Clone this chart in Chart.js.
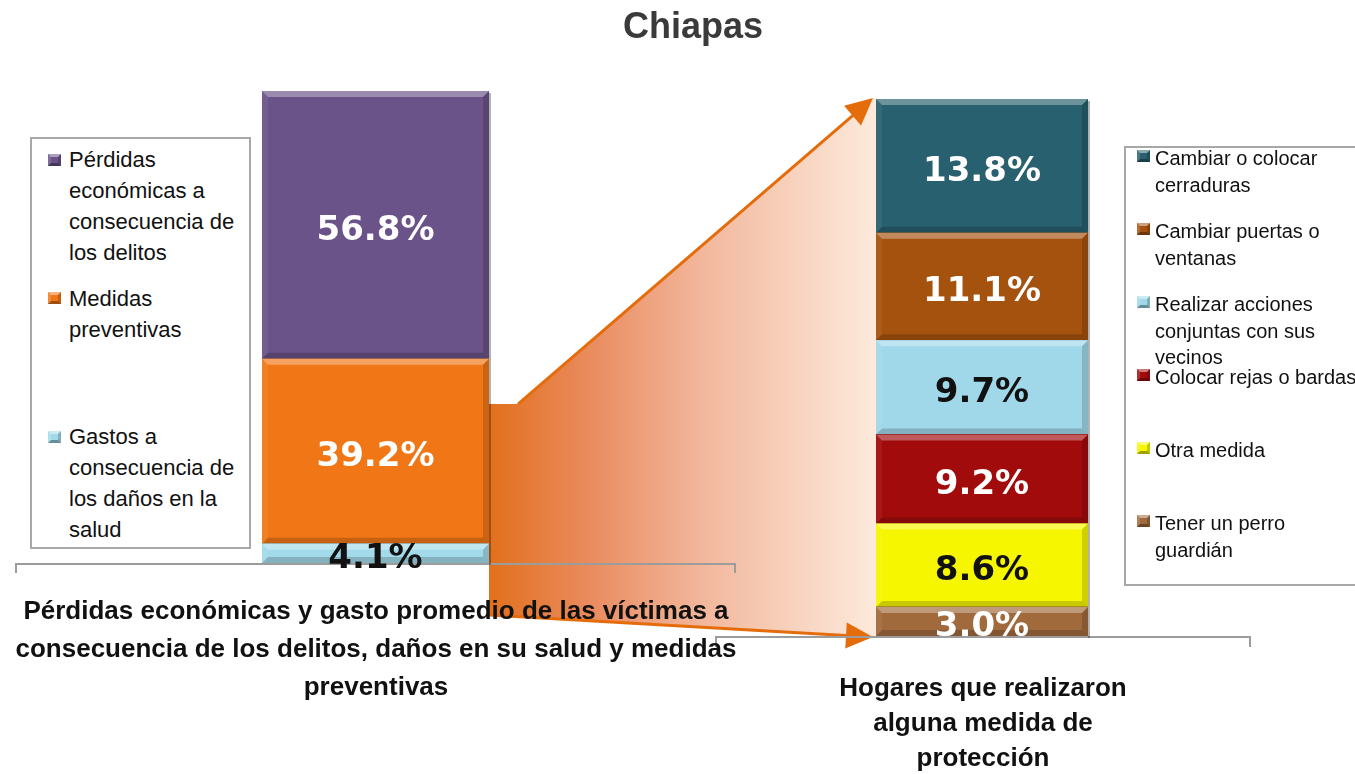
<!DOCTYPE html>
<html>
<head>
<meta charset="utf-8">
<script src="https://cdn.jsdelivr.net/npm/chart.js@4.4.1/dist/chart.umd.min.js"></script>
<style>
html,body{margin:0;padding:0;background:#fff;}
body{width:1355px;height:774px;overflow:hidden;position:relative;font-family:"Liberation Sans",Arial,sans-serif;color:#111;}
.abs{position:absolute;}
#title{left:0;top:4px;width:1386px;text-align:center;font-weight:bold;font-size:36px;line-height:44px;color:#3a3a3a;z-index:5;}
#ov{left:0;top:0;z-index:1;}
#leftCanvas{left:242px;top:71px;z-index:3;}
#rightCanvas{left:856px;top:79px;z-index:3;}
.bracket{border:2px solid #9c9c9c;border-bottom:none;box-sizing:border-box;z-index:2;}
.caption{font-weight:bold;font-size:26px;text-align:center;z-index:5;color:#111;}
.legbox{border:2px solid #a8a8a8;box-sizing:border-box;background:#fff;z-index:4;}
.legtext{z-index:5;white-space:nowrap;color:#111;}
.marker{width:13px;height:12px;box-sizing:border-box;border-style:solid;border-width:3px;z-index:5;}
</style>
</head>
<body>
<div id="title" class="abs">Chiapas</div>
<canvas id="ov" class="abs" width="1355" height="774"></canvas>
<canvas id="leftCanvas" class="abs" width="267" height="512"></canvas>
<canvas id="rightCanvas" class="abs" width="252" height="577"></canvas>
<div class="abs bracket" style="left:15px;top:563px;width:721px;height:10px;"></div>
<div class="abs bracket" style="left:715px;top:636px;width:536px;height:11px;"></div>
<div class="abs caption" style="left:0;top:591px;width:752px;line-height:38px;">Pérdidas económicas y gasto promedio de las víctimas a<br>consecuencia de los delitos, daños en su salud y medidas<br>preventivas</div>
<div class="abs caption" style="left:833px;top:670px;width:300px;line-height:35px;">Hogares que realizaron<br>alguna medida de<br>protección</div>
<div class="abs legbox" style="left:30px;top:137px;width:221px;height:412px;"></div>
<div class="abs legbox" style="left:1124px;top:146px;width:260px;height:440px;"></div>
<div id="legends"></div>
<script>
// ---------- DATA ----------
const leftCategories = [
  ['Pérdidas', 'económicas a', 'consecuencia de', 'los delitos'],
  ['Medidas', 'preventivas'],
  ['Gastos a', 'consecuencia de', 'los daños en la', 'salud']
];
const leftValues = [56.8, 39.2, 4.1];
const leftColors = ['#695388', '#F17716', '#A3DAEA'];
const leftLabelColors = ['#ffffff', '#ffffff', '#111111'];

const rightCategories = [
  ['Cambiar o colocar', 'cerraduras'],
  ['Cambiar puertas o', 'ventanas'],
  ['Realizar acciones', 'conjuntas con sus', 'vecinos'],
  ['Colocar rejas o bardas'],
  ['Otra medida'],
  ['Tener un perro', 'guardián']
];
const rightValues = [13.8, 11.1, 9.7, 9.2, 8.6, 3.0];
const rightColors = ['#28606F', '#A6520F', '#A0D8EA', '#A20B0B', '#F6F600', '#A16A3C'];
const rightLabelColors = ['#ffffff', '#ffffff', '#111111', '#ffffff', '#111111', '#ffffff'];

// ---------- helpers ----------
function shade(hex, amt) {
  const n = parseInt(hex.slice(1), 16);
  let r = (n >> 16) & 255, g = (n >> 8) & 255, b = n & 255;
  const f = c => amt >= 0 ? Math.round(c + (255 - c) * amt) : Math.round(c * (1 + amt));
  return 'rgb(' + f(r) + ',' + f(g) + ',' + f(b) + ')';
}

const bevelLabelPlugin = {
  id: 'bevelLabel',
  afterDatasetsDraw(chart) {
    const ctx = chart.ctx;
    chart.data.datasets.forEach((ds, di) => {
      const meta = chart.getDatasetMeta(di);
      meta.data.forEach((el) => {
        const l = el.x - el.width / 2, r = el.x + el.width / 2;
        const t = Math.min(el.y, el.base), bt = Math.max(el.y, el.base);
        const b = Math.min(6, (bt - t) / 2);
        ctx.save();
        ctx.fillStyle = 'rgba(255,255,255,0.32)';
        ctx.beginPath(); ctx.moveTo(l, t); ctx.lineTo(r, t); ctx.lineTo(r - b, t + b); ctx.lineTo(l + b, t + b); ctx.closePath(); ctx.fill();
        ctx.fillStyle = 'rgba(255,255,255,0.06)';
        ctx.beginPath(); ctx.moveTo(l, t); ctx.lineTo(l + b, t + b); ctx.lineTo(l + b, bt - b); ctx.lineTo(l, bt); ctx.closePath(); ctx.fill();
        ctx.fillStyle = 'rgba(0,0,0,0.16)';
        ctx.beginPath(); ctx.moveTo(r, t); ctx.lineTo(r - b, t + b); ctx.lineTo(r - b, bt - b); ctx.lineTo(r, bt); ctx.closePath(); ctx.fill();
        ctx.fillStyle = 'rgba(0,0,0,0.18)';
        ctx.beginPath(); ctx.moveTo(l, bt); ctx.lineTo(r, bt); ctx.lineTo(r - b, bt - b); ctx.lineTo(l + b, bt - b); ctx.closePath(); ctx.fill();
        ctx.fillStyle = 'rgba(0,0,0,0.3)';
        ctx.fillRect(r, t + 2, 2, bt - t);
        ctx.restore();
      });
    });
    chart.data.datasets.forEach((ds, di) => {
      const meta = chart.getDatasetMeta(di);
      meta.data.forEach((el, i) => {
        const v = ds.data[i];
        ctx.save();
        ctx.font = 'bold 34px "DejaVu Sans", Verdana, sans-serif';
        ctx.textAlign = 'center';
        ctx.textBaseline = 'middle';
        ctx.fillStyle = ds.labelColor;
        ctx.fillText(v.toFixed(1) + '%', el.x, (el.y + el.base) / 2 + 6);
        ctx.restore();
      });
    });
  }
};

function makeStackChart(canvasId, cats, vals, colors, labelColors) {
  const total = vals.reduce((a, b) => a + b, 0);
  const datasets = [];
  for (let i = vals.length - 1; i >= 0; i--) {
    datasets.push({
      label: cats[i].join(' '),
      data: [vals[i]],
      backgroundColor: colors[i],
      borderWidth: 0,
      barPercentage: 1,
      categoryPercentage: 1,
      labelColor: labelColors[i],
      srcIndex: i
    });
  }
  return new Chart(document.getElementById(canvasId), {
    type: 'bar',
    data: { labels: [''], datasets },
    options: {
      responsive: false,
      animation: false,
      layout: { padding: 20 },
      plugins: { legend: { display: false }, tooltip: { enabled: false } },
      scales: {
        x: { stacked: true, display: false },
        y: { stacked: true, display: false, min: 0, max: total }
      }
    },
    plugins: [bevelLabelPlugin]
  });
}

const leftChart = makeStackChart('leftCanvas', leftCategories, leftValues, leftColors, leftLabelColors);
const rightChart = makeStackChart('rightCanvas', rightCategories, rightValues, rightColors, rightLabelColors);

// ---------- legends (HTML, built from data) ----------
function buildLegend(cats, colors, x, y0, step, fontSize, lh, markerX, markerDy) {
  const root = document.getElementById('legends');
  cats.forEach((lines, i) => {
    const top = y0 + i * step;
    const t = document.createElement('div');
    t.className = 'abs legtext';
    t.style.left = x + 'px';
    t.style.top = top + 'px';
    t.style.fontSize = fontSize + 'px';
    t.style.lineHeight = lh + 'px';
    t.innerHTML = lines.join('<br>');
    root.appendChild(t);
    const m = document.createElement('div');
    m.className = 'abs marker';
    m.style.left = markerX + 'px';
    m.style.top = (top + (lh - 12) / 2 + markerDy) + 'px';
    m.style.background = colors[i];
    m.style.borderTopColor = shade(colors[i], 0.45);
    m.style.borderLeftColor = shade(colors[i], 0.15);
    m.style.borderRightColor = shade(colors[i], -0.2);
    m.style.borderBottomColor = shade(colors[i], -0.35);
    root.appendChild(m);
  });
}
buildLegend(leftCategories, leftColors, 69, 144, 138.5, 22, 31, 48, 0);
buildLegend(rightCategories, rightColors, 1155, 145, 73, 20, 26.5, 1137, -2);

// ---------- connector (gradient band + arrows) from chart geometry ----------
function drawConnector() {
  const ctx = document.getElementById('ov').getContext('2d');
  const lc = leftChart.canvas, rc = rightChart.canvas;
  const medIdx = leftChart.data.datasets.findIndex(d => d.srcIndex === 1);
  const el = leftChart.getDatasetMeta(medIdx).data[0];
  const L = lc.offsetLeft + el.x + el.width / 2;
  const oTop = lc.offsetTop + Math.min(el.y, el.base);
  const oBot = lc.offsetTop + Math.max(el.y, el.base);
  const lBarBottom = lc.offsetTop + leftChart.scales.y.getPixelForValue(0);
  const topL = oTop + (oBot - oTop) * 0.245;
  const botL = lBarBottom + 52;
  const R = rc.offsetLeft + rightChart.chartArea.left;
  const rTop = rc.offsetTop + rightChart.scales.y.getPixelForValue(rightChart.scales.y.max);
  const rBot = rc.offsetTop + rightChart.scales.y.getPixelForValue(0);

  const upStart = [L + 29, topL], upEnd = [R - 3, rTop - 1];
  const loStart = [L, botL], loEnd = [R - 3, rBot + 1];

  const g = ctx.createLinearGradient(L, 0, R, 0);
  g.addColorStop(0, '#E2701C');
  g.addColorStop(0.25, '#E98A5C');
  g.addColorStop(0.55, '#F2B79C');
  g.addColorStop(1, '#FDEADC');
  ctx.fillStyle = g;
  ctx.beginPath();
  ctx.moveTo(L, topL);
  ctx.lineTo(upStart[0], upStart[1]);
  ctx.lineTo(upEnd[0], upEnd[1]);
  ctx.lineTo(R + 6, rTop);
  ctx.lineTo(R + 6, rBot);
  ctx.lineTo(loEnd[0], loEnd[1]);
  ctx.lineTo(loStart[0], loStart[1]);
  ctx.closePath();
  ctx.fill();

  function arrow(s, e) {
    const dx = e[0] - s[0], dy = e[1] - s[1];
    const len = Math.hypot(dx, dy);
    const ux = dx / len, uy = dy / len, px = -uy, py = ux;
    const hl = 27, hw = 13;
    ctx.strokeStyle = '#E46C0A';
    ctx.lineWidth = 3;
    ctx.beginPath();
    ctx.moveTo(s[0], s[1]);
    ctx.lineTo(e[0] - ux * (hl - 4), e[1] - uy * (hl - 4));
    ctx.stroke();
    ctx.fillStyle = '#E46C0A';
    ctx.beginPath();
    ctx.moveTo(e[0], e[1]);
    ctx.lineTo(e[0] - ux * hl + px * hw, e[1] - uy * hl + py * hw);
    ctx.lineTo(e[0] - ux * hl - px * hw, e[1] - uy * hl - py * hw);
    ctx.closePath();
    ctx.fill();
  }
  arrow(upStart, upEnd);
  arrow(loStart, loEnd);
}
drawConnector();
</script>
</body>
</html>
